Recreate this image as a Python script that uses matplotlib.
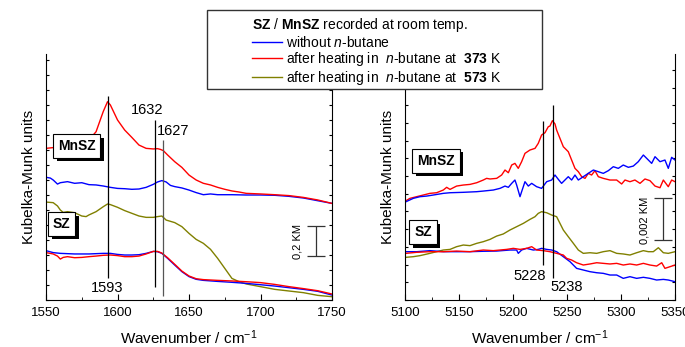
import matplotlib
matplotlib.use("Agg")
import matplotlib.pyplot as plt
import matplotlib.patheffects as pe
from matplotlib.patches import Rectangle
from matplotlib.ticker import MultipleLocator

plt.rcParams['font.family'] = ['Liberation Sans', 'DejaVu Sans']
plt.rcParams['mathtext.fontset'] = 'custom'
plt.rcParams['mathtext.rm'] = 'Liberation Sans'
plt.rcParams['mathtext.it'] = 'Liberation Sans:italic'
plt.rcParams['mathtext.bf'] = 'Liberation Sans:bold'

BLUE = '#0000ff'
RED = '#ff0000'
OLIVE = '#808000'

# ---- left panel: 1550-1750 cm-1 (values in KM) ----
mnsz_red_wn = [1550, 1555, 1560, 1565, 1570, 1575, 1580, 1585, 1590, 1593, 1595, 1600, 1605, 1610,
               1615, 1620, 1625, 1628, 1630, 1632, 1635, 1640, 1645, 1650, 1655, 1660, 1665, 1670,
               1675, 1680, 1685, 1690, 1700, 1710, 1720, 1730, 1740, 1750]
mnsz_red_km = [1.011, 1.016, 1.022, 1.027, 1.033, 1.044, 1.067, 1.122, 1.256, 1.322, 1.300, 1.200,
               1.133, 1.084, 1.033, 1.011, 1.007, 1.009, 1.004, 0.996, 0.967, 0.922, 0.884, 0.833,
               0.800, 0.778, 0.767, 0.751, 0.738, 0.727, 0.720, 0.711, 0.707, 0.702, 0.696, 0.684,
               0.667, 0.644]

mnsz_blue_wn = [1550, 1553, 1555, 1558, 1560, 1565, 1570, 1575, 1580, 1585, 1590, 1595, 1600, 1605,
                1610, 1615, 1620, 1625, 1628, 1631, 1634, 1637, 1640, 1645, 1650, 1655, 1660, 1665,
                1670, 1680, 1690, 1700, 1710, 1720, 1730, 1740, 1750]
mnsz_blue_km = [0.818, 0.813, 0.800, 0.773, 0.782, 0.789, 0.778, 0.782, 0.769, 0.767, 0.760, 0.751,
                0.744, 0.742, 0.738, 0.740, 0.751, 0.771, 0.787, 0.796, 0.787, 0.764, 0.756, 0.747,
                0.733, 0.716, 0.702, 0.707, 0.702, 0.702, 0.700, 0.700, 0.698, 0.691, 0.680, 0.662,
                0.644]

sz_olive_wn = [1550, 1555, 1558, 1560, 1562, 1565, 1570, 1575, 1578, 1580, 1585, 1590, 1593, 1595,
               1600, 1605, 1610, 1615, 1620, 1625, 1628, 1631, 1634, 1640, 1645, 1650, 1655, 1660,
               1665, 1670, 1675, 1680, 1685, 1690, 1700, 1710, 1720, 1730, 1740, 1750]
sz_olive_km = [0.653, 0.649, 0.627, 0.600, 0.584, 0.589, 0.582, 0.560, 0.556, 0.567, 0.589, 0.622,
               0.640, 0.636, 0.618, 0.596, 0.578, 0.560, 0.551, 0.551, 0.556, 0.560, 0.533, 0.516,
               0.489, 0.444, 0.404, 0.378, 0.338, 0.278, 0.211, 0.144, 0.122, 0.107, 0.089, 0.071,
               0.060, 0.049, 0.031, 0.022]

sz_blue_wn = [1550, 1555, 1560, 1570, 1580, 1590, 1595, 1600, 1605, 1610, 1615, 1620, 1625, 1628,
              1631, 1635, 1640, 1645, 1650, 1655, 1660, 1670, 1680, 1690, 1700, 1710, 1720, 1730,
              1740, 1750]
sz_blue_km = [0.329, 0.316, 0.311, 0.307, 0.307, 0.311, 0.311, 0.304, 0.300, 0.300, 0.302, 0.311,
              0.324, 0.322, 0.311, 0.278, 0.233, 0.189, 0.156, 0.138, 0.131, 0.124, 0.118, 0.111,
              0.102, 0.093, 0.082, 0.071, 0.058, 0.033]

sz_red_wn = [1550, 1555, 1558, 1560, 1562, 1565, 1570, 1575, 1580, 1585, 1590, 1595, 1600, 1605,
             1610, 1615, 1620, 1625, 1628, 1631, 1635, 1640, 1645, 1650, 1655, 1660, 1670, 1680,
             1690, 1700, 1710, 1720, 1730, 1740, 1750]
sz_red_km = [0.316, 0.307, 0.293, 0.273, 0.284, 0.289, 0.282, 0.284, 0.289, 0.293, 0.298, 0.300,
             0.296, 0.289, 0.289, 0.293, 0.307, 0.324, 0.324, 0.313, 0.282, 0.238, 0.193, 0.160,
             0.142, 0.136, 0.131, 0.127, 0.122, 0.116, 0.104, 0.089, 0.076, 0.062, 0.040]

# ---- right panel: 5100-5350 cm-1 (values in 10^-3 KM) ----
r_mnsz_red_wn = [5101, 5104.6, 5110.8, 5117.0, 5123.1, 5129.3, 5135.5, 5138.6, 5141.7, 5147.8, 5154.0,
                 5160.2, 5166.4, 5172.5, 5175.6, 5178.7, 5184.9, 5189.5, 5192.6, 5195.7, 5198.8,
                 5201.8, 5204.9, 5208.0, 5211.1, 5215.7, 5220.4, 5223.4, 5226.5, 5229.6, 5232.7,
                 5234.2, 5236.5, 5238.9, 5240.4, 5243.5, 5246.6, 5251.2, 5254.3, 5257.4, 5260.5,
                 5263.6, 5266.7, 5269.7, 5272.8, 5275.9, 5279.0, 5283.6, 5289.8, 5296.0, 5300.6,
                 5303.7, 5308.3, 5312.9, 5317.6, 5322.2, 5326.8, 5331.5, 5336.1, 5339.2, 5343.8,
                 5346.9, 5350.0]
r_mnsz_red_km = [4.77, 4.88, 4.96, 5.04, 5.12, 5.15, 5.28, 5.41, 5.31, 5.47, 5.52,
                 5.55, 5.63, 5.76, 5.84, 5.81, 5.84, 6.00, 6.24, 6.11, 6.48,
                 6.56, 6.32, 6.64, 7.04, 7.20, 7.28, 7.52, 7.92, 8.03, 8.32,
                 8.35, 8.61, 8.45, 8.16, 7.76, 7.36, 7.12, 6.72, 6.32, 6.16,
                 5.92, 5.84, 6.08, 6.00, 6.21, 5.92, 5.84, 5.76, 5.76, 5.57,
                 5.76, 5.68, 5.76, 5.60, 5.81, 5.73, 5.47, 5.39, 5.76, 5.44,
                 5.76, 5.68]

r_mnsz_blue_wn = [5101, 5107.7, 5113.9, 5120.1, 5126.2, 5135.5, 5141.7, 5154.0, 5166.4, 5172.5, 5181.8,
                  5188.0, 5192.6, 5195.7, 5198.8, 5201.8, 5203.4, 5206.5, 5208.0, 5211.1, 5214.2,
                  5217.3, 5221.9, 5226.5, 5231.2, 5235.8, 5238.9, 5242.0, 5245.0, 5248.1, 5251.2,
                  5254.3, 5257.4, 5260.5, 5265.1, 5269.7, 5274.4, 5279.0, 5283.6, 5288.3, 5292.9,
                  5297.5, 5302.1, 5306.8, 5311.4, 5316.0, 5320.7, 5323.8, 5328.4, 5331.5, 5336.1,
                  5340.7, 5343.8, 5346.9, 5350.0]
r_mnsz_blue_km = [4.72, 4.88, 4.96, 4.99, 5.04, 5.12, 5.15, 5.17, 5.20, 5.23, 5.28,
                  5.36, 5.47, 5.41, 5.60, 5.76, 5.52, 4.96, 5.20, 5.68, 5.47,
                  5.60, 5.44, 5.36, 5.68, 5.76, 6.00, 5.79, 5.60, 5.76, 5.92,
                  5.76, 6.00, 5.76, 5.92, 6.08, 6.24, 6.16, 6.08, 6.21, 6.40,
                  6.32, 6.48, 6.37, 6.43, 6.64, 6.96, 6.80, 6.56, 6.88, 6.64,
                  6.72, 6.32, 6.85, 6.72]

r_sz_olive_wn = [5101, 5107.7, 5113.9, 5123.1, 5129.3, 5135.5, 5141.7, 5147.8, 5154.0, 5160.2, 5166.4,
                 5172.5, 5178.7, 5184.9, 5191.0, 5197.2, 5203.4, 5209.6, 5215.7, 5220.4, 5223.4,
                 5226.5, 5231.2, 5235.8, 5240.4, 5243.5, 5246.6, 5251.2, 5255.9, 5260.5, 5265.1,
                 5271.3, 5277.5, 5283.6, 5289.8, 5296.0, 5302.1, 5308.3, 5314.5, 5320.7, 5325.3,
                 5329.9, 5334.6, 5339.2, 5343.8, 5350.0]
r_sz_olive_km = [2.05, 2.08, 2.13, 2.24, 2.32, 2.40, 2.43, 2.56, 2.64, 2.61, 2.72,
                 2.80, 2.91, 3.07, 3.17, 3.36, 3.52, 3.68, 3.87, 4.00, 4.16,
                 4.24, 4.19, 4.08, 4.00, 3.68, 3.36, 3.04, 2.72, 2.40, 2.24,
                 2.27, 2.24, 2.32, 2.37, 2.24, 2.21, 2.16, 2.27, 2.37, 2.32,
                 2.32, 2.51, 2.27, 2.24, 2.32]

r_sz_blue_wn = [5101, 5110.8, 5123.1, 5135.5, 5147.8, 5160.2, 5172.5, 5184.9, 5197.2, 5203.4, 5204.9,
                5208.0, 5212.6, 5218.8, 5223.4, 5226.5, 5231.2, 5235.8, 5240.4, 5246.6, 5252.8,
                5258.9, 5265.1, 5271.3, 5277.5, 5283.6, 5289.8, 5296.0, 5302.1, 5308.3, 5314.5,
                5320.7, 5326.8, 5333.0, 5339.2, 5343.8, 5350.0]
r_sz_blue_km = [2.32, 2.32, 2.37, 2.32, 2.32, 2.32, 2.34, 2.35, 2.40, 2.40, 2.24,
                2.40, 2.48, 2.40, 2.43, 2.48, 2.43, 2.40, 2.32, 2.08, 1.84,
                1.52, 1.44, 1.36, 1.31, 1.28, 1.20, 1.20, 1.04, 1.12, 1.04,
                1.09, 1.04, 0.96, 0.99, 0.96, 0.88]

r_sz_red_wn = [5101, 5110.8, 5123.1, 5135.5, 5147.8, 5160.2, 5172.5, 5181.8, 5188.0, 5194.1, 5200.3,
               5206.5, 5212.6, 5217.3, 5221.9, 5228.1, 5234.2, 5240.4, 5246.6, 5249.7, 5254.3,
               5258.9, 5265.1, 5271.3, 5277.5, 5283.6, 5289.8, 5296.0, 5302.1, 5308.3, 5314.5,
               5320.7, 5326.8, 5333.0, 5337.7, 5340.7, 5345.4, 5350.0]
r_sz_red_km = [2.24, 2.29, 2.32, 2.32, 2.35, 2.32, 2.40, 2.37, 2.40, 2.43, 2.48,
               2.43, 2.48, 2.56, 2.40, 2.37, 2.32, 2.24, 2.16, 2.00, 1.92,
               1.79, 1.68, 1.73, 1.79, 1.76, 1.73, 1.76, 1.68, 1.73, 1.68,
               1.76, 1.68, 1.63, 1.79, 1.52, 1.60, 1.68]

legend_title = r"$\bf{SZ}$ / $\bf{MnSZ}$ recorded at room temp."
legend_labels = [r"without $\it{n}$-butane",
                 r"after heating in  $\it{n}$-butane at  $\bf{373}$ K",
                 r"after heating in  $\it{n}$-butane at  $\bf{573}$ K"]

fig = plt.figure(figsize=(6.85, 3.47), dpi=100)
ax1 = fig.add_axes([0.0672, 0.1354, 0.4175, 0.709])
ax2 = fig.add_axes([0.5912, 0.1354, 0.3942, 0.709])

lw = 1.0
h1, = ax1.plot(mnsz_blue_wn, mnsz_blue_km, color=BLUE, lw=lw)
h2, = ax1.plot(mnsz_red_wn, mnsz_red_km, color=RED, lw=lw)
h3, = ax1.plot(sz_olive_wn, sz_olive_km, color=OLIVE, lw=lw)
ax1.plot(sz_blue_wn, sz_blue_km, color=BLUE, lw=lw)
ax1.plot(sz_red_wn, sz_red_km, color=RED, lw=lw)

ax2.plot(r_mnsz_red_wn, r_mnsz_red_km, color=RED, lw=lw)
ax2.plot(r_mnsz_blue_wn, r_mnsz_blue_km, color=BLUE, lw=lw)
ax2.plot(r_sz_olive_wn, r_sz_olive_km, color=OLIVE, lw=lw)
ax2.plot(r_sz_blue_wn, r_sz_blue_km, color=BLUE, lw=lw)
ax2.plot(r_sz_red_wn, r_sz_red_km, color=RED, lw=lw)

# marker lines and band positions
ax1.vlines(1593, 0.144, 1.36, color='k', lw=0.9)
ax1.vlines(1626.3, 0.084, 1.20, color='k', lw=0.9)
ax1.vlines(1631.7, 0.027, 1.067, color='#555555', lw=0.9)
ax1.text(1621, 1.267, "1632", ha='center', va='center', fontsize=10.5)
ax1.text(1639, 1.129, "1627", ha='center', va='center', fontsize=10.5)
ax1.text(1593, 0.078, "1593", ha='center', va='center', fontsize=10.5)

ax2.vlines(5228.1, 1.68, 8.61, color='k', lw=0.9)
ax2.vlines(5237.3, 1.04, 9.36, color='k', lw=0.9)
ax2.text(5215.7, 1.17, "5228", ha='center', va='center', fontsize=10.5)
ax2.text(5249.7, 0.64, "5238", ha='center', va='center', fontsize=10.5)

# scale bars
ax1.errorbar(1739, 0.396, yerr=0.1, color='#333333', lw=0.9, capsize=6.5, capthick=0.9)
ax1.text(1726, 0.389, "0,2 KM", rotation=90, ha='center', va='center', fontsize=8)
ax2.errorbar(5339.2, 3.88, yerr=1.0, color='#333333', lw=0.9, capsize=6.5, capthick=0.9)
ax2.text(5322.2, 3.84, "0,002 KM", rotation=90, ha='center', va='center', fontsize=8)

# sample labels with shadowed boxes
def tag(ax, x, y, s):
    t = ax.text(x, y, s, ha='center', va='center', fontsize=10, fontweight='bold',
                bbox=dict(boxstyle='square,pad=0.35', fc='white', ec='black', lw=0.8), zorder=5)
    t.get_bbox_patch().set_path_effects([
        pe.SimplePatchShadow(offset=(2.5, -2.5), shadow_rgbFace='black', alpha=1.0),
        pe.Normal()])

tag(ax1, 1571.5, 1.027, "MnSZ")
tag(ax1, 1561, 0.507, "SZ")
tag(ax2, 5128.7, 6.69, "MnSZ")
tag(ax2, 5116.7, 3.25, "SZ")

for ax, lim, step in [(ax1, (1550, 1750), 0.1), (ax2, (5100, 5350), 0.85)]:
    ax.set_xlim(*lim)
    ax.xaxis.set_major_locator(MultipleLocator(50))
    ax.xaxis.set_minor_locator(MultipleLocator(25))
    ax.yaxis.set_major_locator(MultipleLocator(step))
    ax.spines['top'].set_visible(False)
    for s in ['left', 'right', 'bottom']:
        ax.spines[s].set_linewidth(0.8)
    ax.tick_params(axis='both', which='both', direction='in', labelsize=9.5)
    ax.tick_params(axis='x', which='major', length=4, pad=5)
    ax.tick_params(axis='x', which='minor', length=2.5)
    ax.tick_params(axis='y', which='major', length=2.5, left=True, right=True,
                   labelleft=False)
    ax.set_xlabel(r"Wavenumber / cm$^{-1}$", fontsize=11, labelpad=7)
    ax.set_ylabel("Kubelka-Munk units", fontsize=11, labelpad=7)

ax1.set_ylim(0, 1.64)
ax2.set_ylim(0, 11.81)

# legend inside its own framed box
fig.patches.append(Rectangle((0.3022, 0.7435), 0.489, 0.2277, transform=fig.transFigure,
                             fc='white', ec='#333333', lw=1.0, zorder=3))
leg = fig.legend([h1, h2, h3], legend_labels, title=legend_title, loc='upper left',
                 bbox_to_anchor=(0.353, 0.982), frameon=False, fontsize=10, title_fontsize=10,
                 handlelength=2.2, handletextpad=0.3, labelspacing=0.05, borderpad=0.2,
                 alignment='left')
leg.set_zorder(4)

fig.savefig("out.png", dpi=100)
